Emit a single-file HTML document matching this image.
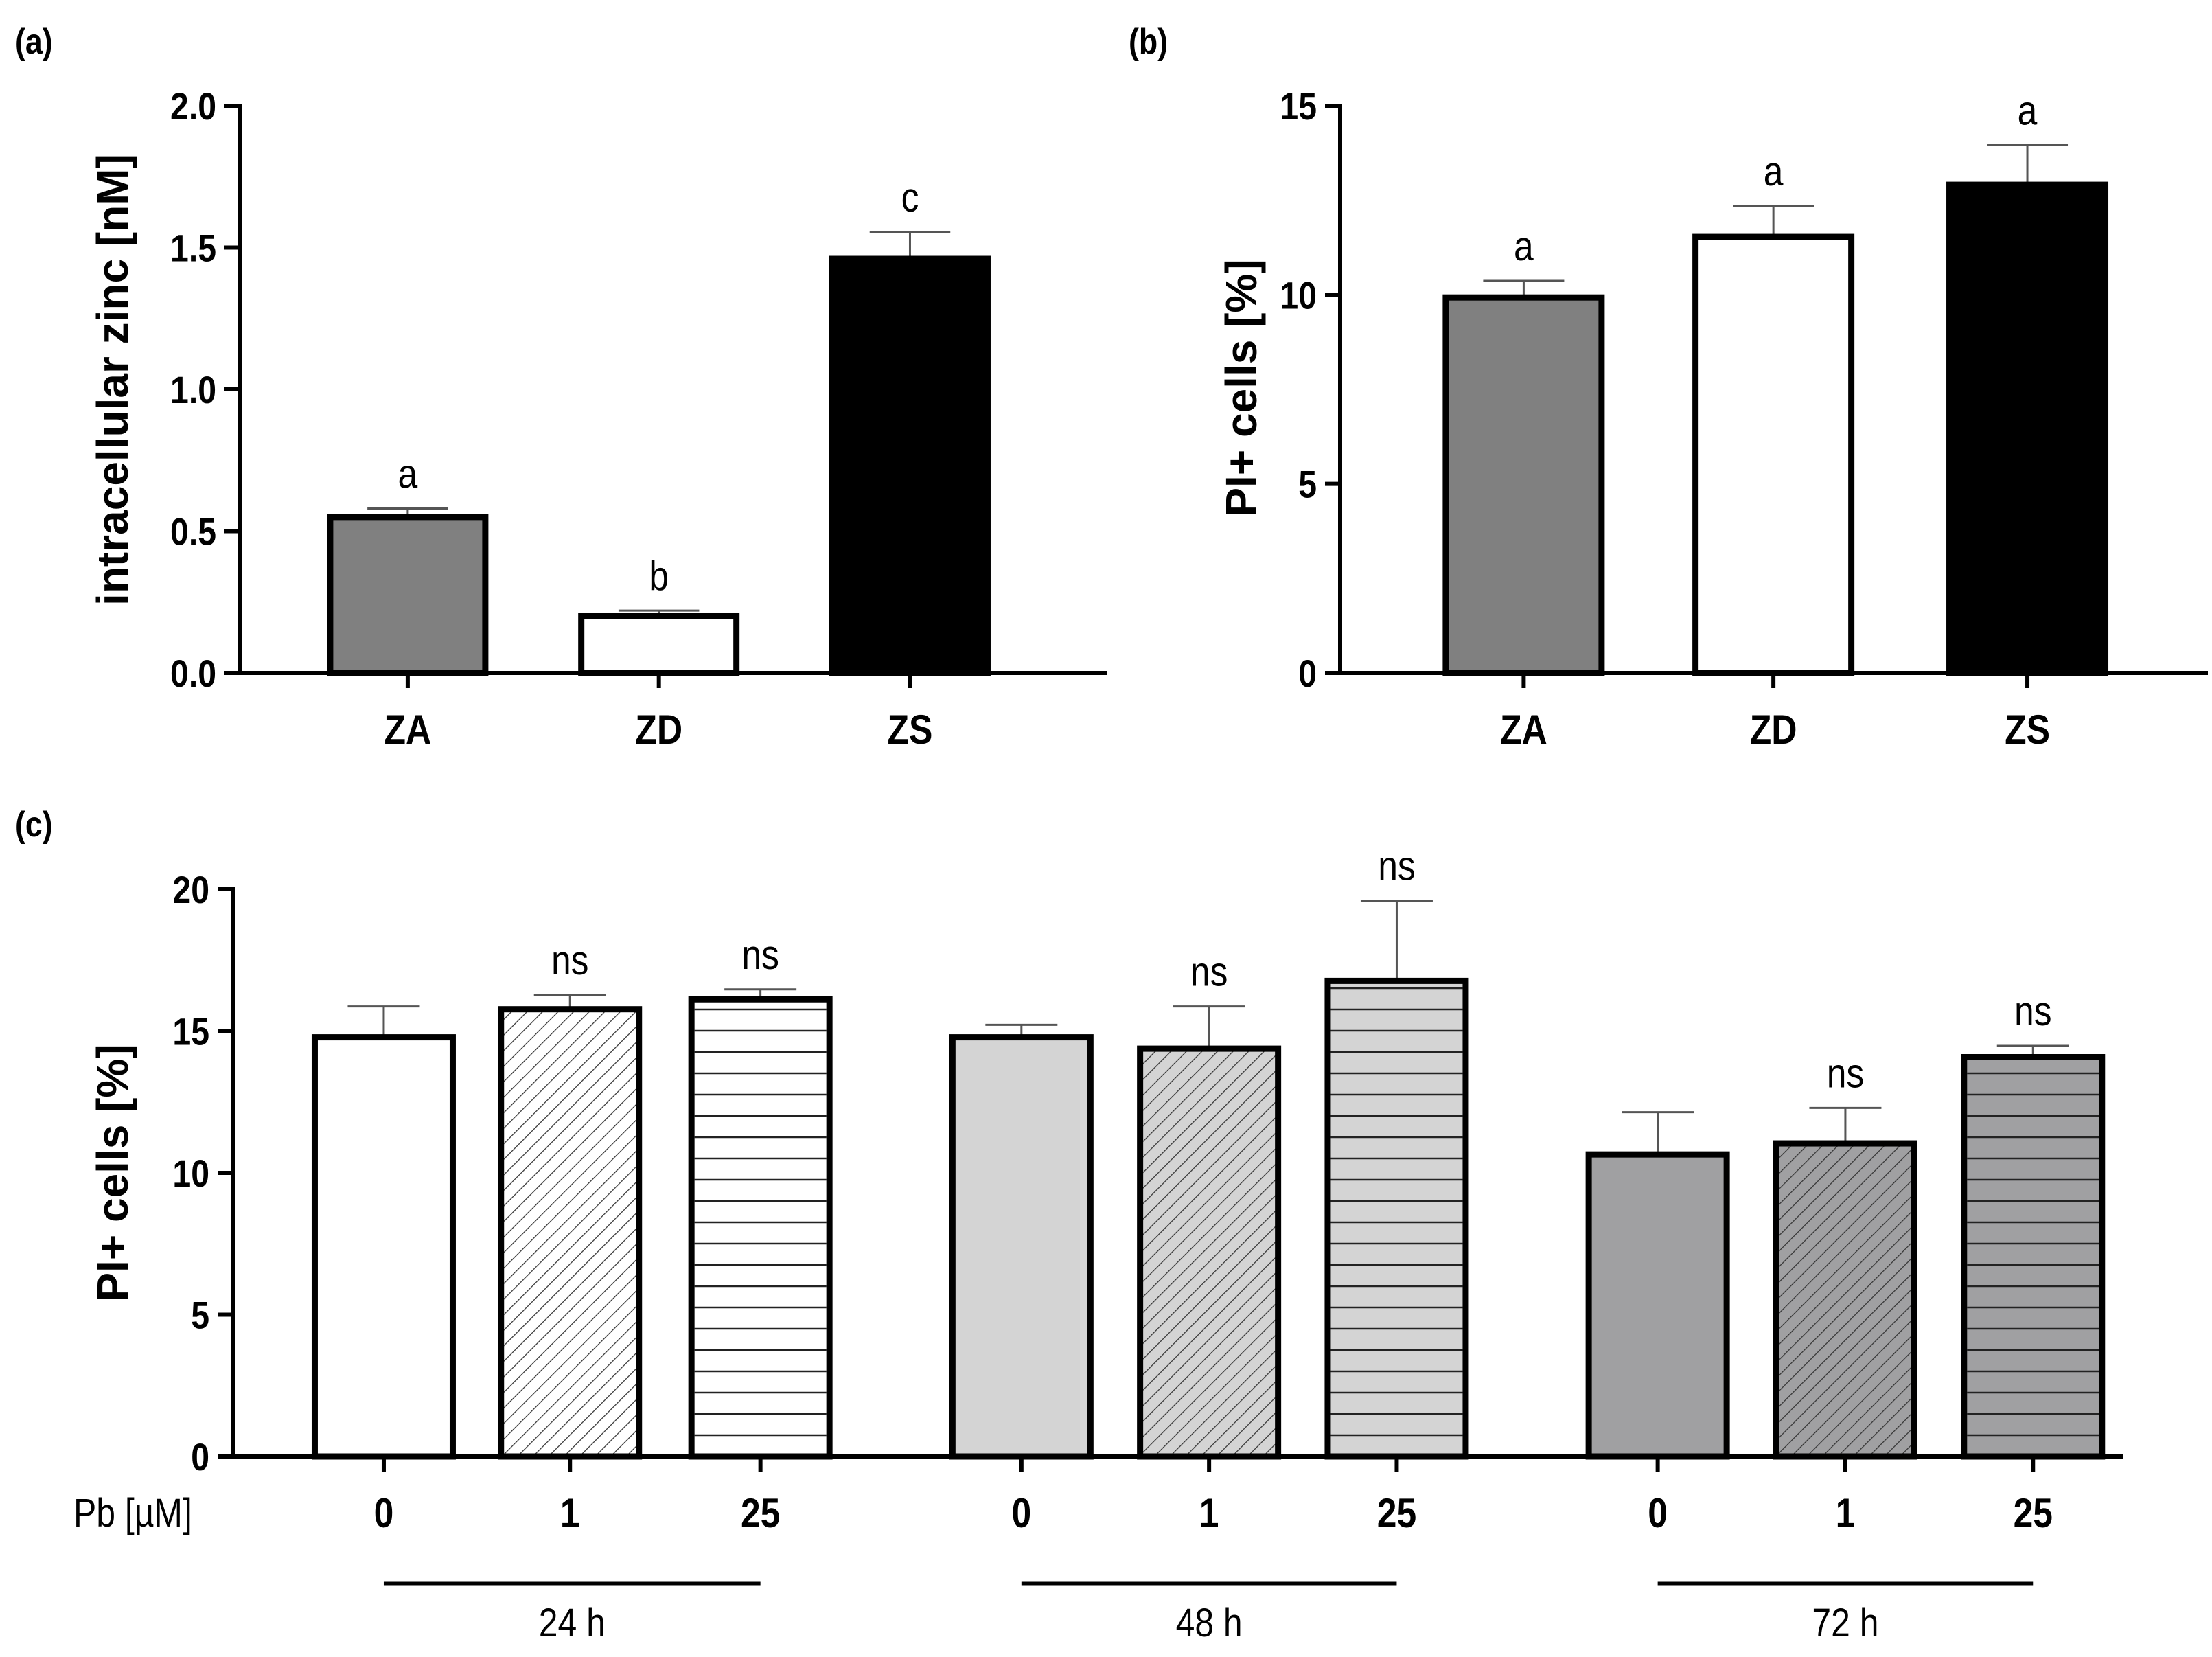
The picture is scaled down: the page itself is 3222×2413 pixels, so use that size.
<!DOCTYPE html>
<html><head><meta charset="utf-8"><style>html,body{margin:0;padding:0;background:#fff}svg{display:block}text{font-family:"Liberation Sans",sans-serif}</style></head>
<body>
<svg id="fig" width="3222" height="2413" viewBox="0 0 3222 2413" xmlns="http://www.w3.org/2000/svg">
<defs>
<pattern id="diag0" patternUnits="userSpaceOnUse" width="16" height="16" patternTransform="rotate(45)"><rect width="16" height="16" fill="#ffffff"/><line x1="0" y1="0" x2="0" y2="16" stroke="#333" stroke-width="2.5"/></pattern>
<pattern id="diag1" patternUnits="userSpaceOnUse" width="16" height="16" patternTransform="rotate(45)"><rect width="16" height="16" fill="#d4d4d4"/><line x1="0" y1="0" x2="0" y2="16" stroke="#333" stroke-width="2.5"/></pattern>
<pattern id="diag2" patternUnits="userSpaceOnUse" width="16" height="16" patternTransform="rotate(45)"><rect width="16" height="16" fill="#a0a0a2"/><line x1="0" y1="0" x2="0" y2="16" stroke="#333" stroke-width="2.5"/></pattern>
</defs>
<g id="root"></g>
</svg>
<script>
// Panel a data
const aCats = ['ZA','ZD','ZS'];
const aVals = [0.55, 0.20, 1.46];
const aErr = [0.03, 0.02, 0.095];
const aLetters = ['a','b','c'];
const aTicks = ['0.0','0.5','1.0','1.5','2.0'];
// Panel b data
const bCats = ['ZA','ZD','ZS'];
const bVals = [9.93, 11.53, 12.91];
const bErr = [0.44, 0.82, 1.05];
const bLetters = ['a','a','a'];
const bTicks = ['0','5','10','15'];
// Panel c data
const cDoses = ['0','1','25','0','1','25','0','1','25'];
const cVals = [14.78, 15.77, 16.12, 14.78, 14.38, 16.77, 10.65, 11.04, 14.08];
const cErr = [1.09, 0.50, 0.35, 0.44, 1.49, 2.83, 1.49, 1.25, 0.40];
const cSig = ['', 'ns', 'ns', '', 'ns', 'ns', '', 'ns', 'ns'];
const cGroups = ['24 h','48 h','72 h'];
const cTicks = ['0','5','10','15','20'];

const NS='http://www.w3.org/2000/svg';
const root=document.getElementById('root');
function mk(tag,attrs,parent,txt){const e=document.createElementNS(NS,tag);for(const k in attrs)e.setAttribute(k,attrs[k]);if(txt!==undefined)e.textContent=txt;(parent||root).appendChild(e);return e;}
function ctext(x,y,size,anchor,txt,parent,bold,rot){
  const t=mk('text',{x:0,y:0,'font-size':size,'text-anchor':anchor,'font-weight':bold?'bold':'normal',
    transform:'translate('+x+','+y+')'+(rot?' rotate(-90)':'')+' scale(0.86,1)'},parent,txt);
  return t;
}

function panel(o){
  const g=mk('g',{});
  
  
  const y=v=>o.y0-(v-o.ymin)/(o.ymax-o.ymin)*(o.y0-o.y1);
  o.vals.forEach((v,i)=>{
    const cx=o.cx[i], w=o.bw;
    const top=y(v);
    const errTop=y(v+o.err[i]);
    const el=mk('line',{x1:cx,x2:cx,y1:top,y2:errTop,stroke:'#555','stroke-width':3},g);
    
    
    const cap=mk('line',{x1:cx-w*0.25,x2:cx+w*0.25,y1:errTop,y2:errTop,stroke:'#555','stroke-width':3},g);
    
    
    const fill=o.fill[i];
    const r=mk('rect',{x:cx-w/2+4.5,y:top,width:w-9,height:o.y0-top,fill:fill.pat?'url(#'+fill.pat+')':fill.c,stroke:'#000','stroke-width':9},g);
    
    
    if(fill.h){
      for(let yy=o.y0-31; yy>top+8; yy-=31){
        const hl=mk('line',{x1:cx-w/2+9,x2:cx+w/2-9,y1:yy,y2:yy,stroke:'#222','stroke-width':2.5},g);
        
        
      }
    }
    if(o.letters[i]){
      const t=ctext(cx,errTop-30,60,'middle',o.letters[i],g,false,false);
      
      
    }
    const tk=mk('line',{x1:cx,x2:cx,y1:o.y0,y2:o.y0+22,stroke:'#000','stroke-width':6},g);
    
    
    const xl=ctext(cx,o.y0+103,60,'middle',o.cats[i],g,true,false);
    
    
  });
  const ya=mk('line',{x1:o.ax,x2:o.ax,y1:o.y1-3,y2:o.y0+3,stroke:'#000','stroke-width':6},g);
  
  
  const xa=mk('line',{x1:o.ax-3,x2:o.xend,y1:o.y0,y2:o.y0,stroke:'#000','stroke-width':6},g);
  
  
  o.ticks.forEach(t=>{
    const yy=y(parseFloat(t));
    const l=mk('line',{x1:o.ax-22,x2:o.ax,y1:yy,y2:yy,stroke:'#000','stroke-width':6},g);
    
    
    const tl=ctext(o.ax-34,yy+20,56,'end',t,g,true,false);
    
    
  });
  const yt=mk('text',{x:0,y:0,'font-size':64,'font-weight':'bold','text-anchor':'middle',transform:'translate('+o.tx+','+o.ty+') rotate(-90)'},g,o.title);
  
  
  const pl=ctext(o.plx,o.ply,52,'start',o.plabel,g,true,false);
  
  
  return g;
}
const S=2.055;
panel({name:'panel-a',ax:349,y0:980,y1:154,xend:1613,ymin:0,ymax:2,vals:aVals,err:aErr,letters:aLetters,cats:aCats,ticks:aTicks,
  cx:[289*S,467*S,645*S],bw:235,fill:[{c:'#808080'},{c:'#fff'},{c:'#000'}],title:'intracellular zinc [nM]',tx:186,ty:553,plabel:'(a)',plx:22,ply:78});
panel({name:'panel-b',ax:1952,y0:980,y1:154,xend:3216,ymin:0,ymax:15,vals:bVals,err:bErr,letters:bLetters,cats:bCats,ticks:bTicks,
  cx:[1080*S,1257*S,1437*S],bw:236,fill:[{c:'#808080'},{c:'#fff'},{c:'#000'}],title:'PI+ cells [%]',tx:1830,ty:565,plabel:'(b)',plx:1644,ply:78});
const gc=['#fff','#d4d4d4','#a0a0a2'];
const cFill=cDoses.map((d,i)=>{const k=Math.floor(i/3);const c=gc[k];return d==='1'?{c:c,pat:'diag'+k}:(d==='25'?{c:c,h:true}:{c:c});});
const cCx=[272,404,539,724,857,990,1175,1308,1441].map(v=>v*S);
panel({name:'panel-c',ax:339,y0:2121,y1:1295,xend:3093,ymin:0,ymax:20,vals:cVals,err:cErr,letters:cSig,cats:cDoses,ticks:cTicks,
  cx:cCx,bw:210,fill:cFill,title:'PI+ cells [%]',tx:186,ty:1708,plabel:'(c)',plx:22,ply:1218});
const pb=ctext(107,2223,58,'start','Pb [µM]',root,false,false);


cGroups.forEach((gname,k)=>{
  const x1=cCx[k*3], x2=cCx[k*3+2];
  const l=mk('line',{x1:x1,x2:x2,y1:2306,y2:2306,stroke:'#000','stroke-width':5});
  
  
  const t=ctext((x1+x2)/2,2383,58,'middle',gname,root,false,false);
  
  
});
</script>
</body></html>
